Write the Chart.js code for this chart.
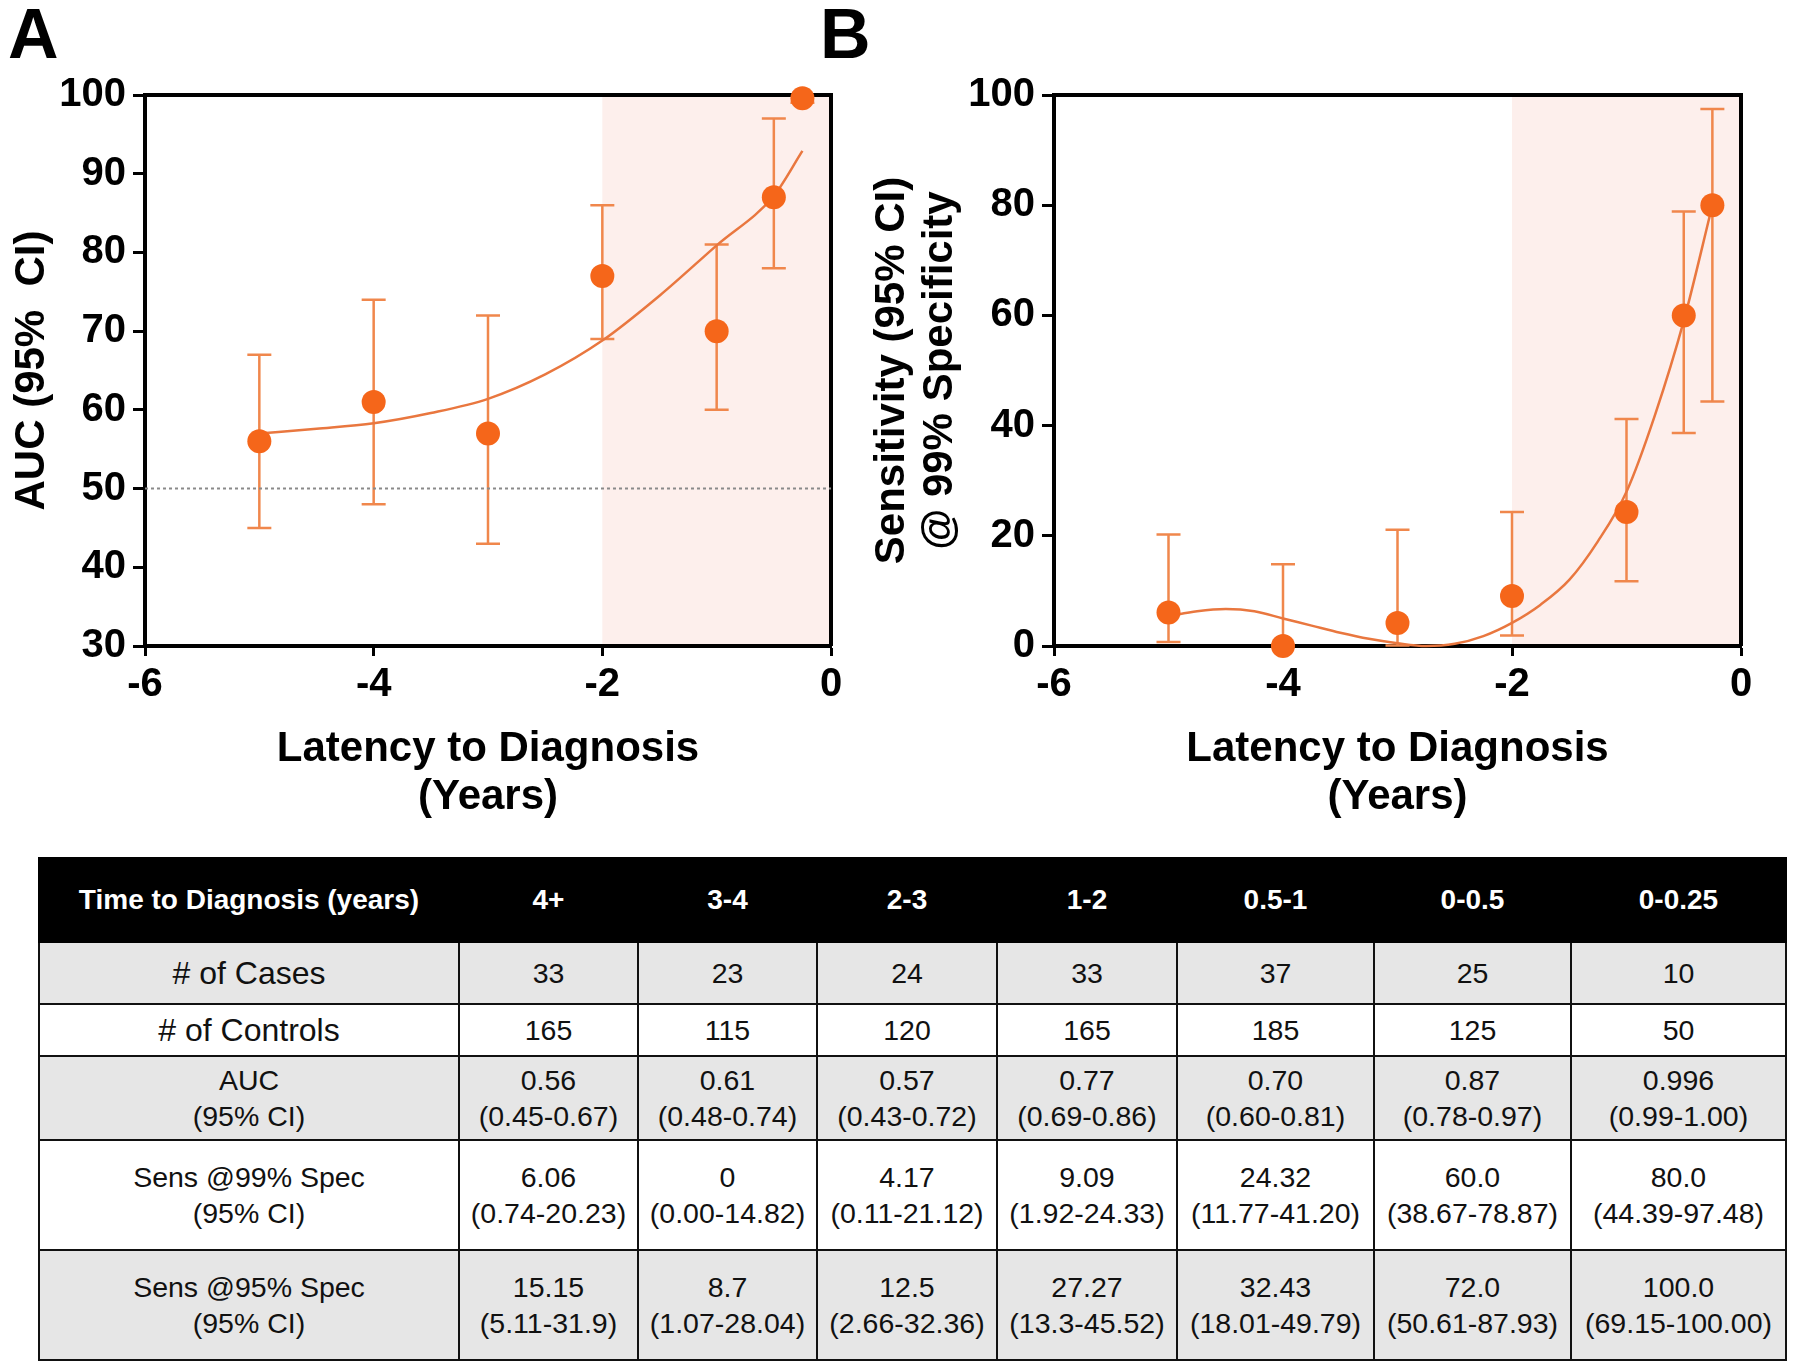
<!DOCTYPE html>
<html>
<head>
<meta charset="utf-8">
<script src="https://cdn.jsdelivr.net/npm/chart.js@4.4.1/dist/chart.umd.min.js"></script>
<style>
  body { margin: 0; width: 1800px; height: 1364px; background: #fff; position: relative; overflow: hidden; }
  .panel { position: absolute; top: 0; height: 830px; }
  #wrapA { left: 0; width: 860px; }
  #wrapB { left: 860px; width: 940px; }
  .tag { position: absolute; top: -1px; font: bold 70px/70px "Liberation Sans", Arial, sans-serif; color: #000; }
  #tbl { position: absolute; left: 38px; top: 857px; width: 1747px; border-collapse: collapse; table-layout: fixed; }
  #tbl th, #tbl td { border: 2.5px solid #111; padding: 0; text-align: center; vertical-align: middle;
    font: 28.5px/36px "Liberation Sans", Arial, sans-serif; color: #111; }
  #tbl th { background: #000; color: #fff; font-weight: bold; font-size: 28px; height: 82px; border-color: #000; }
  #tbl tr.grey td { background: #e6e6e6; }
  #tbl td.plain { font-size: 32px; }
</style>
</head>
<body>
<div class="tag" style="left:8px">A</div>
<div class="tag" style="left:820px">B</div>
<div id="wrapA" class="panel"><canvas id="chartA" width="860" height="830"></canvas></div>
<div id="wrapB" class="panel"><canvas id="chartB" width="940" height="830"></canvas></div>
<table id="tbl"></table>

<script>
// x position of each latency group (years before diagnosis)
const latency = [-5, -4, -3, -2, -1, -0.5, -0.25];

// AUC x100 with 95% CI
const aucMid = [56, 61, 57, 77, 70, 87, 99.6];
const aucLow = [45, 48, 43, 69, 60, 78, 99];
const aucHigh = [67, 74, 72, 86, 81, 97, 100];

// Sensitivity @ 99% specificity with 95% CI
const sensMid = [6.06, 0, 4.17, 9.09, 24.32, 60, 80];
const sensLow = [0.74, 0, 0.11, 1.92, 11.77, 38.67, 44.39];
const sensHigh = [20.23, 14.82, 21.12, 24.33, 41.2, 78.87, 97.48];

// fitted curves
const aucFitX = [-5, -4.5, -4, -3.5, -3, -2.5, -2, -1.5, -1, -0.5, -0.25];
const aucFitY = [57.0, 57.6, 58.3, 59.6, 61.4, 64.5, 68.8, 74.5, 80.9, 87.2, 92.9];
const sensFitX = [-5, -4.75, -4.5, -4.25, -4, -3.75, -3.5, -3.25, -3, -2.75, -2.5, -2.25, -2, -1.75, -1.5, -1.25, -1, -0.75, -0.5, -0.25];
const sensFitY = [5.4, 6.3, 6.7, 6.3, 5.0, 3.7, 2.4, 1.3, 0.5, 0.0, 0.4, 1.8, 4.2, 7.5, 12, 19, 28, 42, 59, 80];

// table
const groups = ["4+", "3-4", "2-3", "1-2", "0.5-1", "0-0.5", "0-0.25"];
const cases = [33, 23, 24, 33, 37, 25, 10];
const controls = [165, 115, 120, 165, 185, 125, 50];
const aucText = ["0.56", "0.61", "0.57", "0.77", "0.70", "0.87", "0.996"];
const aucCI = ["0.45-0.67", "0.48-0.74", "0.43-0.72", "0.69-0.86", "0.60-0.81", "0.78-0.97", "0.99-1.00"];
const sens99 = ["6.06", "0", "4.17", "9.09", "24.32", "60.0", "80.0"];
const sens99CI = ["0.74-20.23", "0.00-14.82", "0.11-21.12", "1.92-24.33", "11.77-41.20", "38.67-78.87", "44.39-97.48"];
const sens95 = ["15.15", "8.7", "12.5", "27.27", "32.43", "72.0", "100.0"];
const sens95CI = ["5.11-31.9", "1.07-28.04", "2.66-32.36", "13.3-45.52", "18.01-49.79", "50.61-87.93", "69.15-100.00"];

const orange = "#f5661a";
const barColor = "#f0874c";
const fitColor = "#e9773f";
const shade = "#fdefec";

Chart.defaults.font.family = '"Liberation Sans", Arial, sans-serif';
Chart.defaults.color = "#000";

const toXY = (xs, ys) => xs.map((x, i) => ({ x: x, y: ys[i] }));

// shading, error bars and the closed frame
const framePlugin = {
  id: "frame",
  beforeDraw(chart, args, opts) {
    const { ctx, chartArea: a, scales: { x } } = chart;
    const x0 = x.getPixelForValue(opts.shadeFrom);
    ctx.save();
    ctx.fillStyle = shade;
    ctx.fillRect(x0, a.top, a.right - x0, a.bottom - a.top);
    ctx.restore();
  },
  beforeDatasetsDraw(chart, args, opts) {
    const { ctx, chartArea: a, scales: { x, y } } = chart;
    ctx.save();
    ctx.strokeStyle = barColor;
    ctx.lineWidth = 2.5;
    opts.xs.forEach((xv, i) => {
      const px = x.getPixelForValue(xv);
      const lo = y.getPixelForValue(opts.low[i]);
      const hi = y.getPixelForValue(opts.high[i]);
      ctx.beginPath();
      ctx.moveTo(px, lo); ctx.lineTo(px, hi);
      ctx.moveTo(px - 12, lo); ctx.lineTo(px + 12, lo);
      ctx.moveTo(px - 12, hi); ctx.lineTo(px + 12, hi);
      ctx.stroke();
    });
    ctx.strokeStyle = "#000";
    ctx.lineWidth = 4;
    ctx.beginPath();
    ctx.moveTo(a.left, a.top);
    ctx.lineTo(a.right, a.top);
    ctx.lineTo(a.right, a.bottom);
    ctx.stroke();
    ctx.restore();
  }
};

function makeChart(id, cfg) {
  const datasets = [
    { data: toXY(latency, cfg.mid), backgroundColor: orange, borderWidth: 0, pointRadius: 12, clip: false },
    { data: toXY(cfg.fitX, cfg.fitY), showLine: true, borderColor: fitColor, borderWidth: 2.5, pointRadius: 0,
      cubicInterpolationMode: "monotone", clip: false }
  ];
  if (cfg.refLine) {
    datasets.push({ data: [{ x: -6, y: cfg.refLine }, { x: 0, y: cfg.refLine }], showLine: true,
      borderColor: "#8a8a8a", borderWidth: 2, borderDash: [3, 3], pointRadius: 0 });
  }
  return new Chart(document.getElementById(id), {
    type: "scatter",
    data: { datasets: datasets },
    plugins: [framePlugin],
    options: {
      responsive: false,
      animation: false,
      layout: { padding: { top: 95, right: cfg.padRight, left: 0, bottom: 0 } },
      plugins: {
        legend: { display: false },
        tooltip: { enabled: false },
        frame: { shadeFrom: -2, xs: latency, low: cfg.low, high: cfg.high }
      },
      scales: {
        x: {
          min: -6, max: 0,
          afterFit: s => { s.height = 184; },
          border: { width: 4, color: "#000" },
          grid: { drawOnChartArea: false, tickLength: 10, tickWidth: 3, tickColor: "#000" },
          ticks: { stepSize: 2, padding: 5, maxRotation: 0, font: { size: 40, weight: "bold" } },
          title: { display: true, text: ["Latency to Diagnosis", "(Years)"], padding: { bottom: 8 },
            font: { size: 42, weight: "bold", lineHeight: 1.15 } }
        },
        y: {
          min: cfg.yMin, max: 100,
          afterFit: s => { s.width = cfg.axisWidth; },
          border: { width: 4, color: "#000" },
          grid: { drawOnChartArea: false, tickLength: 12, tickWidth: 3, tickColor: "#000" },
          ticks: { stepSize: cfg.yStep, padding: 7, font: { size: 40, weight: "bold" } },
          title: { display: true, text: cfg.yTitle, padding: { top: 8 },
            font: { size: 42, weight: "bold", lineHeight: 1.15 } }
        }
      }
    }
  });
}

makeChart("chartA", {
  mid: aucMid, low: aucLow, high: aucHigh, fitX: aucFitX, fitY: aucFitY,
  refLine: 50, yMin: 30, yStep: 10, yTitle: "AUC (95%  CI)", axisWidth: 145, padRight: 29
});

makeChart("chartB", {
  mid: sensMid, low: sensLow, high: sensHigh, fitX: sensFitX, fitY: sensFitY,
  yMin: 0, yStep: 20, yTitle: ["Sensitivity (95% CI)", "@ 99% Specificity"], axisWidth: 194, padRight: 59
});

// table below the charts
const tbl = document.getElementById("tbl");
const widths = [420, 179, 179, 180, 180, 197, 197, 215];
tbl.innerHTML = "<colgroup>" + widths.map(w => `<col style="width:${w}px">`).join("") + "</colgroup>";

function addRow(cells, cls, height, tag) {
  const tr = document.createElement("tr");
  if (cls) tr.className = cls;
  cells.forEach((c, i) => {
    const td = document.createElement(tag || "td");
    td.innerHTML = c;
    if (i === 0 && cls && cls.includes("plainLabel")) td.className = "plain";
    td.style.height = height + "px";
    tr.appendChild(td);
  });
  tbl.appendChild(tr);
}

addRow(["Time to Diagnosis (years)"].concat(groups), "", 82, "th");
addRow(["# of Cases"].concat(cases), "grey plainLabel", 60);
addRow(["# of Controls"].concat(controls), "plainLabel", 50);
addRow(["AUC<br>(95% CI)"].concat(aucText.map((v, i) => `${v}<br>(${aucCI[i]})`)), "grey", 82);
addRow(["Sens @99% Spec<br>(95% CI)"].concat(sens99.map((v, i) => `${v}<br>(${sens99CI[i]})`)), "", 108);
addRow(["Sens @95% Spec<br>(95% CI)"].concat(sens95.map((v, i) => `${v}<br>(${sens95CI[i]})`)), "grey", 108);
</script>
</body>
</html>
